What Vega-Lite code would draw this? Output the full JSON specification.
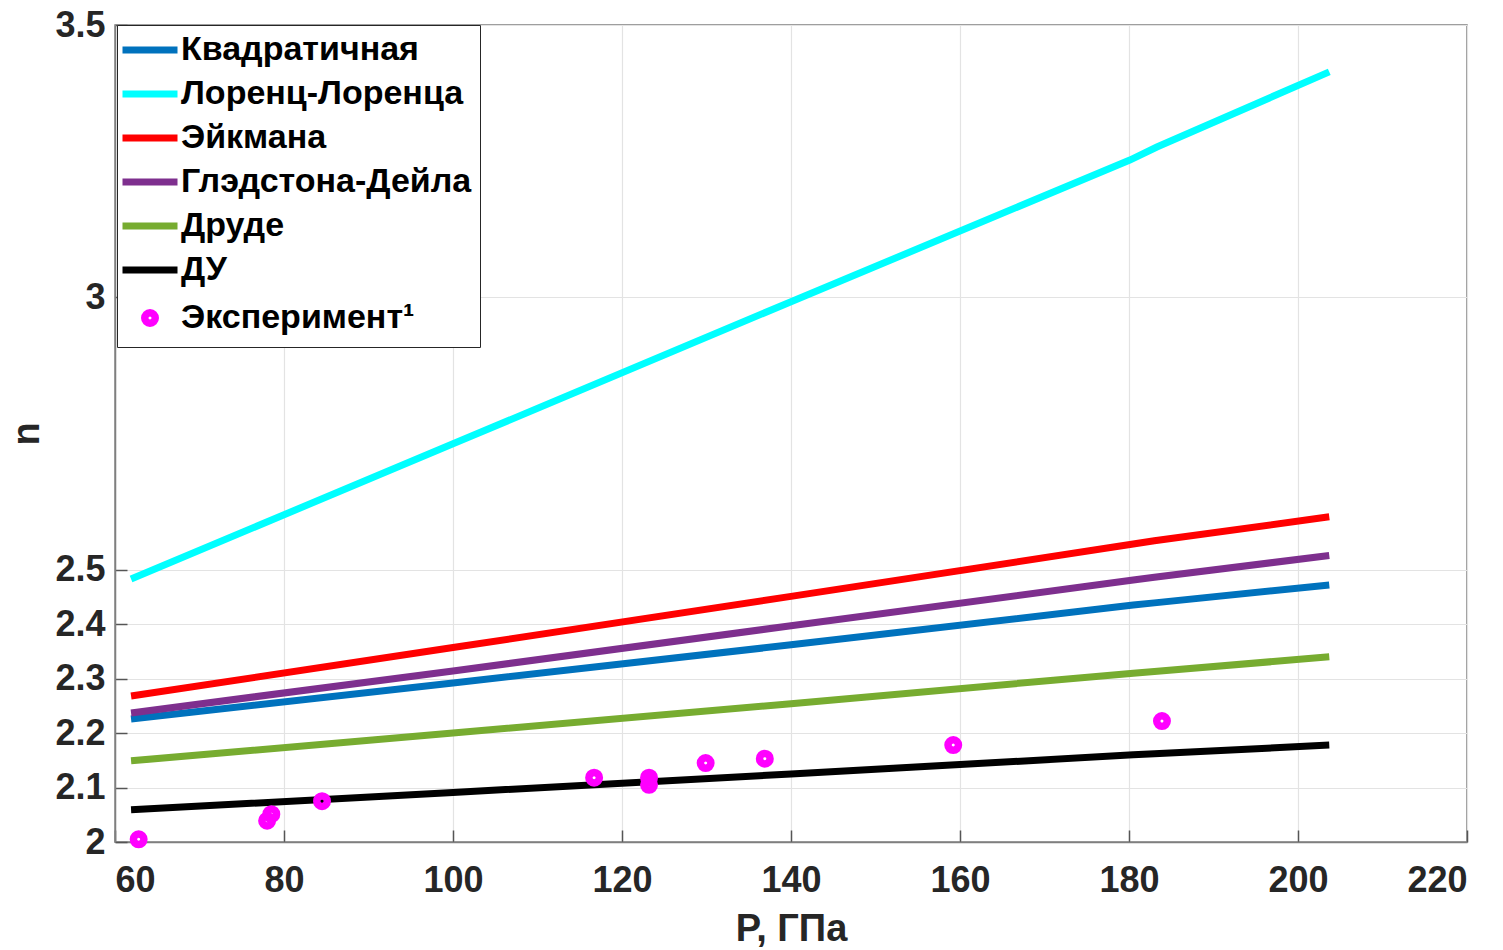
{
  "$schema": "https://vega.github.io/schema/vega-lite/v6.json",
  "autosize": {"type": "none"},
  "width": 1352,
  "height": 817,
  "padding": {"left": 115, "top": 25, "right": 36, "bottom": 108},
  "background": "white",
  "config": {
    "font": "Liberation Sans",
    "view": {"stroke": "#7f7f7f", "strokeWidth": 1.5},
    "axis": {
      "labelFont": "Liberation Sans", "labelFontWeight": "bold", "labelFontSize": 36, "labelColor": "#262626",
      "titleFont": "Liberation Sans", "titleFontWeight": "bold", "titleFontSize": 38, "titleColor": "#262626",
      "gridColor": "#e3e3e3", "gridWidth": 1.2, "domainColor": "#7f7f7f", "domainWidth": 1.5,
      "tickColor": "#555555", "tickWidth": 1.5
    }
  },
  "data": {"values": [
    {"series": "Квадратичная", "P": 61.9, "n": 2.226},
    {"series": "Квадратичная", "P": 100, "n": 2.292},
    {"series": "Квадратичная", "P": 140, "n": 2.362},
    {"series": "Квадратичная", "P": 180.5, "n": 2.435},
    {"series": "Квадратичная", "P": 183, "n": 2.439},
    {"series": "Квадратичная", "P": 203.7, "n": 2.472},
    {"series": "Лоренц-Лоренца", "P": 61.9, "n": 2.483},
    {"series": "Лоренц-Лоренца", "P": 100, "n": 2.731},
    {"series": "Лоренц-Лоренца", "P": 140, "n": 2.992},
    {"series": "Лоренц-Лоренца", "P": 180.1, "n": 3.252},
    {"series": "Лоренц-Лоренца", "P": 183.3, "n": 3.276},
    {"series": "Лоренц-Лоренца", "P": 203.7, "n": 3.414},
    {"series": "Эйкмана", "P": 61.9, "n": 2.268},
    {"series": "Эйкмана", "P": 100, "n": 2.357},
    {"series": "Эйкмана", "P": 140, "n": 2.451},
    {"series": "Эйкмана", "P": 180.5, "n": 2.547},
    {"series": "Эйкмана", "P": 183, "n": 2.553},
    {"series": "Эйкмана", "P": 203.7, "n": 2.597},
    {"series": "Глэдстона-Дейла", "P": 61.9, "n": 2.237},
    {"series": "Глэдстона-Дейла", "P": 100, "n": 2.314},
    {"series": "Глэдстона-Дейла", "P": 140, "n": 2.397},
    {"series": "Глэдстона-Дейла", "P": 180.5, "n": 2.481},
    {"series": "Глэдстона-Дейла", "P": 183, "n": 2.486},
    {"series": "Глэдстона-Дейла", "P": 203.7, "n": 2.526},
    {"series": "Друде", "P": 61.9, "n": 2.149},
    {"series": "Друде", "P": 100, "n": 2.200},
    {"series": "Друде", "P": 140, "n": 2.254},
    {"series": "Друде", "P": 180.5, "n": 2.310},
    {"series": "Друде", "P": 183, "n": 2.313},
    {"series": "Друде", "P": 203.7, "n": 2.340},
    {"series": "ДУ", "P": 61.9, "n": 2.059},
    {"series": "ДУ", "P": 100, "n": 2.091},
    {"series": "ДУ", "P": 140, "n": 2.125},
    {"series": "ДУ", "P": 180.5, "n": 2.160},
    {"series": "ДУ", "P": 183, "n": 2.162},
    {"series": "ДУ", "P": 203.7, "n": 2.178},
    {"series": "Эксперимент¹", "P": 62.8, "n": 2.005},
    {"series": "Эксперимент¹", "P": 78.0, "n": 2.039},
    {"series": "Эксперимент¹", "P": 78.5, "n": 2.051},
    {"series": "Эксперимент¹", "P": 84.5, "n": 2.075},
    {"series": "Эксперимент¹", "P": 116.7, "n": 2.118},
    {"series": "Эксперимент¹", "P": 123.2, "n": 2.118},
    {"series": "Эксперимент¹", "P": 123.2, "n": 2.105},
    {"series": "Эксперимент¹", "P": 129.9, "n": 2.145},
    {"series": "Эксперимент¹", "P": 136.9, "n": 2.153},
    {"series": "Эксперимент¹", "P": 159.2, "n": 2.178},
    {"series": "Эксперимент¹", "P": 183.9, "n": 2.222}
  ]},
  "encoding": {
    "x": {"field": "P", "type": "quantitative", "title": "P, ГПа",
      "scale": {"domain": [60, 220], "nice": false, "zero": false},
      "axis": {"values": [60, 80, 100, 120, 140, 160, 180, 200, 220], "tickSize": -12, "labelPadding": 33, "titlePadding": 12, "grid": true}},
    "y": {"field": "n", "type": "quantitative", "title": "n",
      "scale": {"domain": [2, 3.5], "nice": false, "zero": false},
      "axis": {"values": [2, 2.1, 2.2, 2.3, 2.4, 2.5, 3, 3.5], "format": "~g", "tickSize": -12, "labelPadding": 22, "titlePadding": 8, "grid": true}},
    "color": {"field": "series", "type": "nominal",
      "scale": {
        "domain": ["Квадратичная", "Лоренц-Лоренца", "Эйкмана", "Глэдстона-Дейла", "Друде", "ДУ", "Эксперимент¹"],
        "range": ["#0072BD", "#00FFFF", "#FF0000", "#7E2F8E", "#77AC30", "#000000", "#FF00FF"]
      },
      "legend": {
        "title": null, "orient": "none", "legendX": 2, "legendY": 0,
        "strokeColor": "#262626", "fillColor": "white", "padding": 8,
        "symbolType": "stroke", "symbolSize": 3025, "symbolStrokeWidth": 7, "symbolOffset": 8,
        "labelFont": "Liberation Sans", "labelFontWeight": "bold", "labelFontSize": 34, "labelColor": "#000000",
        "labelOffset": 14, "rowPadding": 10, "labelLimit": 500,
        "encode": {"symbols": {"update": {
          "shape": {"signal": "datum.value === 'Эксперимент¹' ? 'circle' : 'stroke'"},
          "size": {"signal": "datum.value === 'Эксперимент¹' ? 110 : 3025"},
          "strokeWidth": {"signal": "datum.value === 'Эксперимент¹' ? 7.5 : 7"},
          "fill": {"value": "transparent"}
        }}}
      }
    }
  },
  "layer": [
    {
      "transform": [{"filter": "datum.series !== 'Эксперимент¹'"}],
      "mark": {"type": "line", "strokeWidth": 7, "strokeCap": "butt"}
    },
    {
      "transform": [{"filter": "datum.series === 'Эксперимент¹'"}],
      "mark": {"type": "point", "filled": false, "size": 110, "strokeWidth": 7.5, "opacity": 1}
    }
  ]
}
